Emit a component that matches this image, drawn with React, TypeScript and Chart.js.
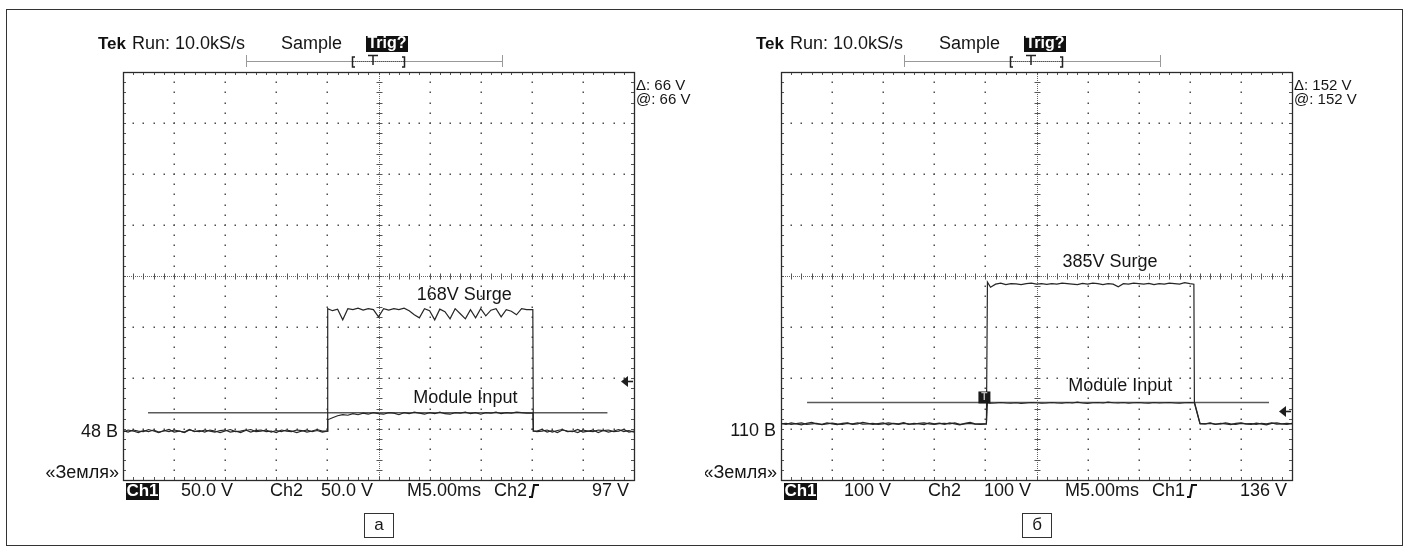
import React, { useEffect, useRef } from 'react';
import { Chart, registerables } from 'chart.js';
Chart.register(...registerables);

// ---------- data (panel а) ----------
const T_A = [
  0, 0.5, 1, 1.5, 2, 2.5, 3, 3.5, 4, 4.5, 5, 5.5, 6, 6.5, 7, 7.5, 8, 8.5, 9, 9.5,
  10, 10.5, 11, 11.5, 12, 12.5, 13, 13.5, 14, 14.5, 15, 15.5, 16, 16.5, 17, 17.5, 18, 18.5, 19, 19.5,
  19.97, 20.03,
  20.5, 21, 21.5, 22, 22.5, 23, 23.5, 24, 24.5, 25, 25.5, 26, 26.5, 27, 27.5, 28, 28.5, 29, 29.5, 30,
  30.5, 31, 31.5, 32, 32.5, 33, 33.5, 34, 34.5, 35, 35.5, 36, 36.5, 37, 37.5, 38, 38.5, 39, 39.5,
  40.1, 40.15,
  40.5, 41, 41.5, 42, 42.5, 43, 43.5, 44, 44.5, 45, 45.5, 46, 46.5, 47, 47.5, 48, 48.5, 49, 49.5, 50,
];
const SURGE_A = [
  47, 49, 48, 46.5, 48.5, 47.5, 49, 47, 48, 49.5, 47, 48, 46.5, 49, 48, 47.5, 49, 48, 47, 48.5,
  49, 47, 48, 46.5, 48.5, 49.5, 47.5, 48, 49, 47, 48.5, 47.5, 49, 48, 46.5, 48, 49, 47.5, 48.5, 47,
  48, 168,
  166, 167.5, 157, 168, 167, 168.5, 166.5, 168, 167, 160, 168, 166.5, 168, 167, 168.5, 166, 162, 159, 168, 166,
  157, 167.5, 165, 158, 168, 163, 158, 167, 159, 168, 161, 166.5, 168, 160, 167, 165.5, 162, 168, 167,
  167, 48,
  48, 49.5, 47, 48.5, 46.5, 49, 48, 47.5, 49.5, 47, 48, 49, 46.5, 48.5, 49, 47.5, 48, 49.5, 47, 48,
];
const MODULE_A = [
  48.5, 47, 49, 48, 47.5, 49.5, 48, 46.5, 48.5, 47.5, 49, 48, 47, 49.5, 47.5, 48.5, 47, 49, 48, 46.5,
  48, 49.5, 47.5, 48, 49, 47, 48.5, 49, 47.5, 48, 46.5, 49, 48, 47.5, 49, 48.5, 47, 48, 49.5, 48,
  48, 59,
  61, 63, 64, 63.5, 65, 64, 65.5, 64.5, 66, 65, 64.5, 66, 65.5, 64, 66, 65, 66.5, 65.5, 64.5, 66,
  65, 66.5, 65, 64.5, 66, 65.5, 66.5, 65, 66, 64.5, 66, 65.5, 66.5, 65, 66, 65.5, 66.5, 66, 65.5,
  65.5, 48,
  47.5, 48, 49, 47, 48.5, 49.5, 47.5, 48, 46.5, 49, 48, 47.5, 49, 48.5, 47, 48, 49.5, 47.5, 48.5, 47,
];

// ---------- data (panel б) ----------
const T_B = [
  0, 0.5, 1, 1.5, 2, 2.5, 3, 3.5, 4, 4.5, 5, 5.5, 6, 6.5, 7, 7.5, 8, 8.5, 9, 9.5,
  10, 10.5, 11, 11.5, 12, 12.5, 13, 13.5, 14, 14.5, 15, 15.5, 16, 16.5, 17, 17.5, 18, 18.5, 19, 19.5,
  20.1, 20.2,
  20.5, 21, 21.5, 22, 22.5, 23, 23.5, 24, 24.5, 25, 25.5, 26, 26.5, 27, 27.5, 28, 28.5, 29, 29.5, 30,
  30.5, 31, 31.5, 32, 32.5, 33, 33.5, 34, 34.5, 35, 35.5, 36, 36.5, 37, 37.5, 38, 38.5, 39, 39.5, 40,
  40.4, 40.45, 41,
  41.5, 42, 42.5, 43, 43.5, 44, 44.5, 45, 45.5, 46, 46.5, 47, 47.5, 48, 48.5, 49, 49.5, 50,
];
const SURGE_B = [
  111, 109, 112, 110, 108, 111, 113, 110, 109, 112, 110, 108.5, 111, 112, 109, 110, 113, 111, 109, 110.5,
  112, 108, 111, 110, 112.5, 109, 111, 110, 108.5, 112, 110, 111.5, 109, 112, 110, 108, 111, 113, 110, 109,
  110, 388,
  378, 384, 386, 383, 385, 384.5, 383, 385, 386, 384, 385, 383.5, 385, 384, 386, 385, 384, 383, 385.5, 384,
  386, 385, 383, 385, 384, 379, 385, 384, 386, 385, 384, 385.5, 383, 385, 384, 386, 385, 384, 387, 385,
  384, 153, 111,
  110, 112, 109, 111, 110, 108.5, 111, 112, 110, 109, 111.5, 110, 108, 111, 112, 110, 109, 111,
];
const MODULE_B = [
  110, 111, 109, 110.5, 112, 109, 110, 111, 108.5, 110, 111.5, 110, 109, 111, 110, 112, 109.5, 110, 111, 109,
  110, 112, 110.5, 109, 111, 110, 109.5, 111, 112, 110, 109, 110.5, 111, 110, 112, 109, 110, 111, 109.5, 110,
  110, 152,
  150.5, 151, 152, 151, 150.5, 151.5, 150, 151, 152, 151.5, 150.5, 151, 152, 151, 150.5, 152, 151, 152.5, 151, 150,
  151.5, 152, 151, 152.5, 151.5, 151, 152, 150.5, 151.5, 152, 151, 150.5, 152, 151, 151.5, 152, 151, 150.5, 151.5, 152,
  151.5, 151, 110,
  110, 111, 109.5, 110, 112, 110, 109, 111, 110, 110.5, 109, 111, 110, 112, 109.5, 110, 111, 110,
];

// ---------- readouts / labels ----------
const BOTTOM_A = ['50.0 V', '50.0 V', 'M5.00ms', 'Ch2', '97 V'];
const BOTTOM_B = ['100 V', '100 V', 'M5.00ms', 'Ch1', '136 V'];
const DELTA_A = ['Δ: 66 V', '@: 66 V'];
const DELTA_B = ['Δ: 152 V', '@: 152 V'];
const CURSOR_A = 66;
const CURSOR_B = 152;
const TRIG_A = 97;
const TRIG_B = 136;
const LEVEL_A = 48;
const LEVEL_B = 110;
const SURGE_LEVEL_A = 168;
const SURGE_LEVEL_B = 385;

const F = '"Liberation Sans", Arial, Helvetica, sans-serif';

type Panel = {
  t: number[]; surge: number[]; module: number[];
  voltDiv: number; cursor: number; cursorFrom: number; cursorTo: number;
  trig: number; level: number; levelLabel: string; levelDy: number;
  surgeLevel: number; surgeLabel: string; surgeT: number; surgeDy: number;
  moduleT: number; moduleDy: number;
  bottom: string[]; delta: string[]; letter: string; trigMarkT: number | null;
  pad: { left: number; right: number; top: number; bottom: number };
};

const PANEL_A: Panel = {
  t: T_A, surge: SURGE_A, module: MODULE_A, voltDiv: 50,
  cursor: CURSOR_A, cursorFrom: 2.45, cursorTo: 47.4, trig: TRIG_A,
  level: LEVEL_A, levelLabel: `${LEVEL_A} В`, levelDy: 1,
  surgeLevel: SURGE_LEVEL_A, surgeLabel: `${SURGE_LEVEL_A}V Surge`, surgeT: 33.4, surgeDy: 14,
  moduleT: 33.5, moduleDy: 15,
  bottom: BOTTOM_A, delta: DELTA_A, letter: 'а', trigMarkT: null,
  pad: { left: 123, right: 71, top: 72, bottom: 69 },
};
const PANEL_B: Panel = {
  t: T_B, surge: SURGE_B, module: MODULE_B, voltDiv: 100,
  cursor: CURSOR_B, cursorFrom: 2.55, cursorTo: 47.75, trig: TRIG_B,
  level: LEVEL_B, levelLabel: `${LEVEL_B} В`, levelDy: 7.5,
  surgeLevel: SURGE_LEVEL_B, surgeLabel: `${SURGE_LEVEL_B}V Surge`, surgeT: 32.2, surgeDy: 22,
  moduleT: 33.2, moduleDy: 16,
  bottom: BOTTOM_B, delta: DELTA_B, letter: 'б', trigMarkT: 20.1,
  pad: { left: 76, right: 118, top: 72, bottom: 69 },
};

const TIME_DIV = 5;

function txt(ctx: CanvasRenderingContext2D, s: string, x: number, y: number, size: number,
  align: CanvasTextAlign = 'left', color = '#151515', bold = false) {
  ctx.font = `${bold ? 'bold ' : ''}${size}px ${F}`;
  ctx.textAlign = align;
  ctx.textBaseline = 'middle';
  ctx.fillStyle = color;
  ctx.fillText(s, x, y);
}

function drawGraticule(chart: any, p: Panel) {
  const ctx: CanvasRenderingContext2D = chart.ctx;
  const xs = chart.scales.x, ys = chart.scales.y;
  const xM: number[] = [];
  for (let i = 0; i <= 10; i++) xM.push(xs.getPixelForValue(i * TIME_DIV));
  const yM: number[] = [];
  for (let k = 0; k <= 8; k++) yM.push(ys.getPixelForValue(k * p.voltDiv));
  const L = xM[0], R = xM[10], B = yM[0], T = yM[8];
  const dx = (R - L) / 50, dy = (B - T) / 40;
  ctx.save();
  ctx.fillStyle = '#4d4d4d';
  for (let i = 1; i < 10; i++) {
    if (i === 5) continue;
    for (let m = 1; m < 40; m++) ctx.fillRect(Math.round(xM[i]) - 0.5, Math.round(B - m * dy) - 0.5, 1.5, 1.5);
  }
  for (let k = 1; k < 8; k++) {
    if (k === 4) continue;
    for (let m = 1; m < 50; m++) ctx.fillRect(Math.round(L + m * dx) - 0.5, Math.round(yM[k]) - 0.5, 1.5, 1.5);
  }
  const cx = Math.round(xM[5]) + 0.5, cy = Math.round(yM[4]) + 0.5;
  ctx.strokeStyle = '#666';
  ctx.lineWidth = 1;
  ctx.setLineDash([1, 1]);
  ctx.beginPath();
  ctx.moveTo(L, cy); ctx.lineTo(R, cy);
  ctx.moveTo(cx, T); ctx.lineTo(cx, B);
  ctx.stroke();
  ctx.setLineDash([]);
  ctx.strokeStyle = '#555';
  ctx.beginPath();
  for (let m = 1; m < 50; m++) { const x = Math.round(L + m * dx) + 0.5; ctx.moveTo(x, cy - 3); ctx.lineTo(x, cy + 3); }
  for (let m = 1; m < 40; m++) { const y = Math.round(B - m * dy) + 0.5; ctx.moveTo(cx - 3, y); ctx.lineTo(cx + 3, y); }
  for (let m = 1; m < 50; m++) {
    const x = Math.round(L + m * dx) + 0.5;
    ctx.moveTo(x, T); ctx.lineTo(x, T + 3);
    ctx.moveTo(x, B); ctx.lineTo(x, B - 3);
  }
  for (let m = 1; m < 40; m++) {
    const y = Math.round(B - m * dy) + 0.5;
    ctx.moveTo(L, y); ctx.lineTo(L + 3, y);
    ctx.moveTo(R, y); ctx.lineTo(R - 3, y);
  }
  ctx.stroke();
  ctx.strokeStyle = '#2a2a2a';
  ctx.lineWidth = 1.3;
  ctx.strokeRect(Math.round(L) + 0.5, Math.round(T) + 0.5, Math.round(R - L), Math.round(B - T));
  ctx.restore();
}

function drawAnnotations(chart: any, p: Panel) {
  const ctx: CanvasRenderingContext2D = chart.ctx;
  const xs = chart.scales.x, ys = chart.scales.y;
  const { left: L, right: R, bottom: B } = chart.chartArea;
  ctx.save();
  txt(ctx, p.surgeLabel, xs.getPixelForValue(p.surgeT), ys.getPixelForValue(p.surgeLevel) - p.surgeDy, 18, 'center');
  txt(ctx, 'Module Input', xs.getPixelForValue(p.moduleT), ys.getPixelForValue(p.cursor) - p.moduleDy, 18, 'center');
  txt(ctx, p.levelLabel, L - 5, ys.getPixelForValue(p.level) + p.levelDy, 18, 'right');
  txt(ctx, '«Земля»', L - 4, B - 7, 18, 'right');

  // trigger level arrow
  const ty = Math.round(ys.getPixelForValue(p.trig)) + 0.5;
  ctx.fillStyle = '#1e1e1e';
  ctx.beginPath();
  ctx.moveTo(R - 13, ty); ctx.lineTo(R - 6, ty - 5.5); ctx.lineTo(R - 6, ty + 5.5); ctx.closePath();
  ctx.fill();
  ctx.strokeStyle = '#1e1e1e'; ctx.lineWidth = 1.6;
  ctx.beginPath(); ctx.moveTo(R - 7, ty); ctx.lineTo(R - 1, ty); ctx.stroke();

  if (p.trigMarkT !== null) {
    const mx = xs.getPixelForValue(p.trigMarkT);
    const my = ys.getPixelForValue(p.cursor);
    ctx.fillStyle = '#1a1a1a';
    ctx.fillRect(mx - 8, my - 11, 12, 12);
    txt(ctx, 'T', mx - 2, my - 5, 10, 'center', '#bbb', true);
  }

  // header
  const hy = 44;
  txt(ctx, 'Tek', L - 25, hy, 17, 'left', '#111', true);
  txt(ctx, 'Run: 10.0kS/s', L + 9, hy, 18);
  txt(ctx, 'Sample', L + 158, hy, 18);
  ctx.fillStyle = '#111';
  ctx.fillRect(L + 243, 36, 42, 16);
  txt(ctx, 'Trig?', L + 264, hy, 16, 'center', '#fff', true);
  ctx.strokeStyle = '#999'; ctx.lineWidth = 1;
  ctx.beginPath();
  ctx.moveTo(L + 123, 61.5); ctx.lineTo(L + 379, 61.5);
  ctx.moveTo(L + 123.5, 55); ctx.lineTo(L + 123.5, 67);
  ctx.moveTo(L + 379.5, 55); ctx.lineTo(L + 379.5, 67);
  ctx.stroke();
  ctx.strokeStyle = '#555';
  ctx.setLineDash([1, 1]);
  ctx.beginPath(); ctx.moveTo(L + 230, 61.5); ctx.lineTo(L + 281, 61.5); ctx.stroke();
  ctx.setLineDash([]);
  ctx.strokeStyle = '#222'; ctx.lineWidth = 1.5;
  ctx.beginPath();
  ctx.moveTo(L + 232, 57); ctx.lineTo(L + 229.5, 57); ctx.lineTo(L + 229.5, 67); ctx.lineTo(L + 232, 67);
  ctx.moveTo(L + 279, 57); ctx.lineTo(L + 281.5, 57); ctx.lineTo(L + 281.5, 67); ctx.lineTo(L + 279, 67);
  ctx.moveTo(L + 245, 55.5); ctx.lineTo(L + 255, 55.5);
  ctx.moveTo(L + 250, 55.5); ctx.lineTo(L + 250, 65);
  ctx.stroke();

  txt(ctx, p.delta[0], R + 2, 86, 15);
  txt(ctx, p.delta[1], R + 2, 100, 15);

  const by = 491;
  ctx.fillStyle = '#111';
  ctx.fillRect(L + 3, by - 8, 33, 17);
  txt(ctx, 'Ch1', L + 19.5, by + 0.5, 17, 'center', '#fff', true);
  txt(ctx, p.bottom[0], L + 110, by, 18, 'right');
  txt(ctx, 'Ch2', L + 147, by, 18);
  txt(ctx, p.bottom[1], L + 250, by, 18, 'right');
  txt(ctx, p.bottom[2], L + 284, by, 18);
  txt(ctx, p.bottom[3], L + 371, by, 18);
  ctx.strokeStyle = '#111'; ctx.lineWidth = 2;
  ctx.beginPath();
  ctx.moveTo(L + 406, by + 6); ctx.lineTo(L + 409, by + 6); ctx.lineTo(L + 411, by - 6); ctx.lineTo(L + 416, by - 6);
  ctx.stroke();
  txt(ctx, p.bottom[4], L + 506, by, 18, 'right');

  const cxm = Math.round((L + R) / 2);
  ctx.strokeStyle = '#333'; ctx.lineWidth = 1;
  ctx.strokeRect(cxm - 14.5, 513.5, 29, 24);
  txt(ctx, p.letter, cxm, 525.5, 17, 'center');
  ctx.restore();
}

function ScopeChart({ panel, offset }: { panel: Panel; offset: number }) {
  const ref = useRef<HTMLCanvasElement | null>(null);
  useEffect(() => {
    if (!ref.current) return;
    const p = panel;
    const pts = (vals: number[]) => p.t.map((t, i) => ({ x: t, y: vals[i] }));
    const chart = new Chart(ref.current, {
      type: 'scatter',
      data: {
        datasets: [
          { data: pts(p.surge), showLine: true, borderColor: '#262626', borderWidth: 1.2, pointRadius: 0, tension: 0, order: 1 },
          { data: pts(p.module), showLine: true, borderColor: '#262626', borderWidth: 1.2, pointRadius: 0, tension: 0, order: 2 },
          {
            data: [{ x: p.cursorFrom, y: p.cursor }, { x: p.cursorTo, y: p.cursor }],
            showLine: true, borderColor: '#5a5a5a', borderWidth: 1.6, pointRadius: 0, order: 3,
          },
        ],
      },
      options: {
        animation: false,
        responsive: false,
        events: [],
        layout: { padding: p.pad },
        plugins: { legend: { display: false }, tooltip: { enabled: false } },
        scales: {
          x: { type: 'linear', min: 0, max: 10 * TIME_DIV, display: false },
          y: { type: 'linear', min: 0, max: 8 * p.voltDiv, display: false },
        },
      },
      plugins: [{
        id: 'scopeOverlay',
        beforeDatasetsDraw: (c: any) => drawGraticule(c, p),
        afterDatasetsDraw: (c: any) => drawAnnotations(c, p),
      }],
    } as any);
    return () => chart.destroy();
  }, [panel]);
  return (
    <canvas ref={ref} width={705} height={549}
      style={{ position: 'absolute', left: offset, top: 0, width: 705, height: 549, display: 'block' }} />
  );
}

export default function App() {
  useEffect(() => {
    document.body.style.margin = '0';
    document.body.style.background = '#fff';
  }, []);
  return (
    <div style={{ position: 'relative', width: 1410, height: 549, background: '#fff', overflow: 'hidden' }}>
      <div style={{ position: 'absolute', left: 6, top: 9, width: 1397, height: 537, border: '1px solid #333', boxSizing: 'border-box' }} />
      <ScopeChart panel={PANEL_A} offset={0} />
      <ScopeChart panel={PANEL_B} offset={705} />
    </div>
  );
}
